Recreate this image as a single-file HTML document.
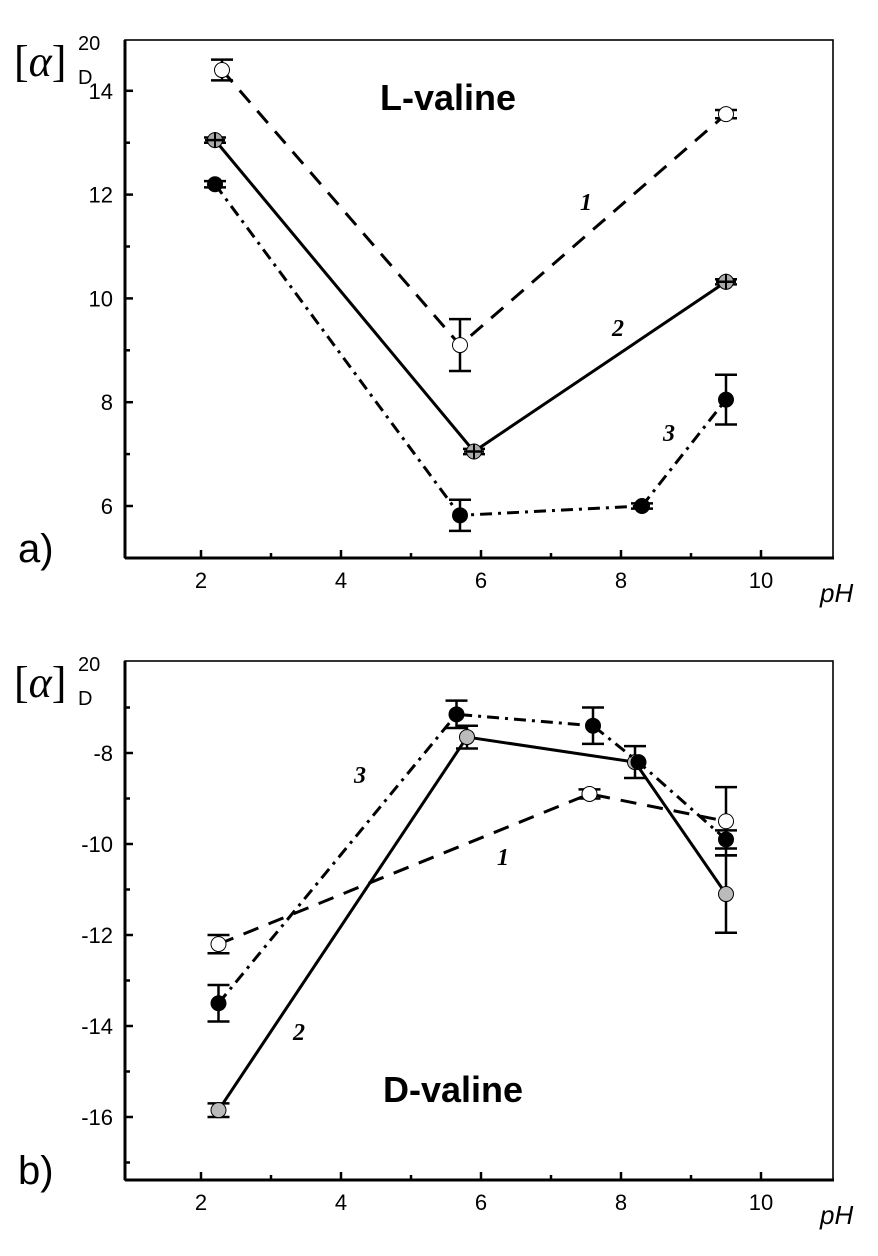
<!DOCTYPE html>
<html><head><meta charset="utf-8">
<style>
body{margin:0;background:#fff;}
svg{display:block;font-family:"Liberation Sans",sans-serif;}
</style></head>
<body>
<svg id="fig" width="878" height="1256" viewBox="0 0 878 1256"></svg>
<script>
// ---- Panel a (L-valine) data ----
const aX1=[2.3,5.7,9.5];      const aY1=[14.4,9.1,13.55];  const aE1=[0.2,0.5,0.08];
const aX2=[2.2,5.9,9.5];      const aY2=[13.05,7.05,10.32]; const aE2=[0.05,0.05,0.05];
const aX3=[2.2,5.7,8.3,9.5];  const aY3=[12.2,5.82,6.0,8.05]; const aE3=[0.06,0.3,0.05,0.48];
const aYTicks=[6,8,10,12,14];
// ---- Panel b (D-valine) data ----
const bX1=[2.25,7.55,9.5];    const bY1=[-12.2,-8.9,-9.5];  const bE1=[0.2,0.1,0.75];
const bX2=[2.25,5.8,8.2,9.5]; const bY2=[-15.85,-7.65,-8.2,-11.1]; const bE2=[0.15,0.25,0.35,0.85];
const bX3=[2.25,5.65,7.6,8.25,9.5]; const bY3=[-13.5,-7.15,-7.4,-8.2,-9.9]; const bE3=[0.4,0.3,0.4,0,0.2];
const bYTicks=[-16,-14,-12,-10,-8];
const xTicks=[2,4,6,8,10];

const NS="http://www.w3.org/2000/svg";
const svg=document.getElementById('fig');
function mk(tag,attrs,parent){const e=document.createElementNS(NS,tag);for(const k in attrs)e.setAttribute(k,attrs[k]);(parent||svg).appendChild(e);return e;}

function panel(p){
  const g=mk('g',{});
  
  
  const sx=v=>201+(v-2)*70;
  const sy=p.sy;
  const fr=mk('rect',{x:125,y:p.top,width:833-125,height:p.bot-p.top,fill:'none',stroke:'#000','stroke-width':1.6},g);
  
  
  mk('line',{x1:125,y1:p.top,x2:125,y2:p.bot,stroke:'#000','stroke-width':3},g);
  mk('line',{x1:125,y1:p.bot,x2:834,y2:p.bot,stroke:'#000','stroke-width':3},g);
  for(let v=2;v<=10;v++){
    const maj=v%2===0;
    mk('line',{x1:sx(v),y1:p.bot,x2:sx(v),y2:p.bot-(maj?8:5),stroke:'#000','stroke-width':2.5},g);
  }
  xTicks.forEach(v=>{
    const t=mk('text',{x:sx(v),y:p.bot+30,'font-size':22,'text-anchor':'middle'},g);t.textContent=v;
    
    
  });
  for(let v=p.ymin;v<=p.ymax;v++){
    const maj=v%2===0;
    mk('line',{x1:125,y1:sy(v),x2:125+(maj?8:5),y2:sy(v),stroke:'#000','stroke-width':2.5},g);
  }
  p.yt.forEach(v=>{
    const t=mk('text',{x:113,y:sy(v)+8,'font-size':22,'text-anchor':'end'},g);t.textContent=v;
    
    
  });
  p.series.forEach(s=>{
    const pts=s.x.map((x,i)=>sx(x)+','+sy(s.y[i])).join(' ');
    const l=mk('polyline',{points:pts,fill:'none',stroke:'#000','stroke-width':3,'stroke-dasharray':s.dash},g);
    
    
    s.x.forEach((x,i)=>{
      const cx=sx(x),cy=sy(s.y[i]),e=s.e[i];
      if(e>0){
        const y1=sy(s.y[i]+e),y2=sy(s.y[i]-e);
        mk('line',{x1:cx,y1:y1,x2:cx,y2:y2,stroke:'#000','stroke-width':2.5},g);
        mk('line',{x1:cx-11,y1:y1,x2:cx+11,y2:y1,stroke:'#000','stroke-width':2.5},g);
        mk('line',{x1:cx-11,y1:y2,x2:cx+11,y2:y2,stroke:'#000','stroke-width':2.5},g);
      }
      const c=mk('circle',{cx:cx,cy:cy,r:s.r,fill:s.fill,stroke:'#000','stroke-width':1},g);
      
      
      if(s.cross){
        mk('line',{x1:cx-10,y1:cy,x2:cx+10,y2:cy,stroke:'#000','stroke-width':2.5},g);
        mk('line',{x1:cx,y1:cy-8,x2:cx,y2:cy+8,stroke:'#000','stroke-width':2},g);
      }
    });
  });
  p.labels.forEach(L=>{
    const t=mk('text',{x:L[1],y:L[2],'font-size':24,'font-style':'italic','font-weight':'bold','font-family':'Liberation Serif, serif'},g);
    t.textContent=L[0];
    
    
  });
  const ti=mk('text',{x:p.titleX,y:p.titleY,'font-size':36,'font-weight':'bold'},g);ti.textContent=p.title;
  
  
  const pl=mk('text',{x:18,y:p.bot+4,'font-size':40},g);pl.textContent=p.letter;
  
  
  const ph=mk('text',{x:820,y:p.bot+44,'font-size':26,'font-style':'italic'},g);ph.textContent='pH';
  
  
  const yt=mk('text',{x:14,y:p.top+36,'font-size':44,'font-family':'Liberation Serif, serif','font-style':'italic'},g);
  
  
  yt.innerHTML='<tspan font-style="normal">[</tspan>α<tspan font-style="normal">]</tspan>';
  const sub=mk('text',{x:78,y:p.top+44,'font-size':20},g);sub.textContent='D';
  const sup=mk('text',{x:78,y:p.top+10,'font-size':20},g);sup.textContent='20';
}

panel({name:'panel-a-l-valine',top:40,bot:558,ymin:5,ymax:14,yt:aYTicks,
  sy:v=>506-(v-6)*51.9,title:'L-valine',titleX:380,titleY:110,letter:'a)',
  labels:[['1',580,210],['2',612,336],['3',663,441]],
  series:[
    {id:'1',x:aX1,y:aY1,e:aE1,fill:'#fff',r:7.5,dash:'16,11'},
    {id:'2',x:aX2,y:aY2,e:aE2,fill:'#aaa',r:7.5,dash:'none',cross:true},
    {id:'3',x:aX3,y:aY3,e:aE3,fill:'#000',r:7.5,dash:'12,6,3,6'}
  ]});
panel({name:'panel-b-d-valine',top:661,bot:1180,ymin:-17,ymax:-7,yt:bYTicks,
  sy:v=>753+(-8-v)*45.5,title:'D-valine',titleX:383,titleY:1102,letter:'b)',
  labels:[['3',354,783],['1',497,865],['2',293,1040]],
  series:[
    {id:'1',x:bX1,y:bY1,e:bE1,fill:'#fff',r:7.5,dash:'16,11'},
    {id:'2',x:bX2,y:bY2,e:bE2,fill:'#bbb',r:7.5,dash:'none'},
    {id:'3',x:bX3,y:bY3,e:bE3,fill:'#000',r:7.5,dash:'12,6,3,6'}
  ]});
</script>
</body></html>
